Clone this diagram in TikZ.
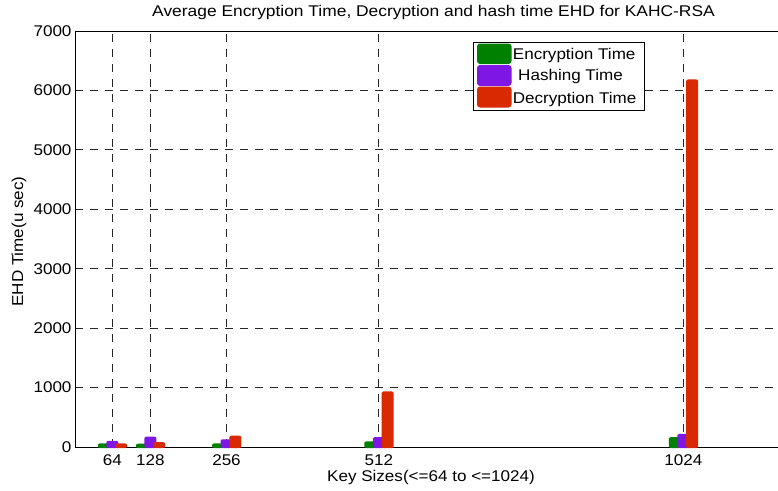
\documentclass[tikz,border=0pt]{standalone}
\usepackage{graphicx}
\usepackage{fontspec}
\setmainfont{Liberation Sans}
\definecolor{encgreen}{RGB}{0,128,0}
\definecolor{hashpurple}{RGB}{126,22,228}
\definecolor{decred}{RGB}{217,41,0}
\begin{document}
\begin{tikzpicture}[x=1pt,y=-1pt,
  lbl/.style={inner sep=0pt, font=\fontsize{15.5}{18}\selectfont, xscale=1.1},
  gridline/.style={black!85, line width=0.8pt, dash pattern=on 8pt off 7pt},
  axisline/.style={black, line width=1pt},
  barshape/.style={rounded corners=2pt},
  swatch/.style={rounded corners=3pt}]
\useasboundingbox (0,0) rectangle (778,490);

% grid
\foreach \k in {64,128,256,512,1024}{
  \pgfmathsetmacro\xc{112.3+(\k-64)*0.5948}
  \draw[gridline] (\xc,447) -- (\xc,31);
}
\foreach \v in {1000,2000,...,6000}{
  \pgfmathsetmacro\yc{447-\v*0.05943}
  \draw[gridline] (75,\yc) -- (778,\yc);
}

% axes
\draw[axisline] (75,31) -- (75,447) -- (778,447);
\draw[black, line width=0.8pt] (75,31) -- (778,31);

% y tick labels
\foreach \v in {0,1000,...,7000}{
  \pgfmathsetmacro\yc{447-\v*0.05943}
  \node[lbl, anchor=east] (yt\v) at (71.7,\yc) {\v};
}
% x tick labels
\foreach \k in {64,128,256,512,1024}{
  \pgfmathsetmacro\xc{112.3+(\k-64)*0.5948}
  \node[lbl] (xt\k) at (\xc,460) {\k};
}

% bars: encryption, hashing, decryption
\foreach \k/\e/\h/\d in {64/35/80/35, 128/30/150/55, 256/35/105/165, 512/70/140/910, 1024/140/195/6160}{
  \pgfmathsetmacro\xc{112.3+(\k-64)*0.5948}
  \fill[encgreen, barshape] ({\xc-14.5},448) rectangle ({\xc-2.5},{445.5-\e*0.05943});
  \fill[hashpurple, barshape] ({\xc-6},448) rectangle ({\xc+6},{445.5-\h*0.05943});
  \fill[decred, barshape] ({\xc+2.8},448) rectangle ({\xc+14.8},{445.5-\d*0.05943});
}

% labels
\node[lbl, xscale=1.02] (title) at (433.5,12) {Average Encryption Time, Decryption and hash time EHD for KAHC-RSA};
\node[lbl] (xlab) at (431,477) {Key Sizes(<=64 to <=1024)};
\node[inner sep=0pt, font=\fontsize{15.8}{18}\selectfont, rotate=90] (ylab) at (19,241.5) {\scalebox{1.08}[1]{EHD Time(u sec)}};

% legend
\draw[black, line width=1pt, fill=white] (473.3,42.7) rectangle (644,110);
\fill[encgreen, swatch] (477,43.5) rectangle (511.5,64);
\fill[hashpurple, swatch] (477,65) rectangle (511.5,86);
\fill[decred, swatch] (477,86.5) rectangle (511.5,107.5);
\node[lbl, anchor=west] (legE) at (512.7,55) {Encryption Time};
\node[lbl, anchor=west] (legH) at (518,76.7) {Hashing Time};
\node[lbl, anchor=west] (legD) at (512.7,99) {Decryption Time};
\end{tikzpicture}
\end{document}
